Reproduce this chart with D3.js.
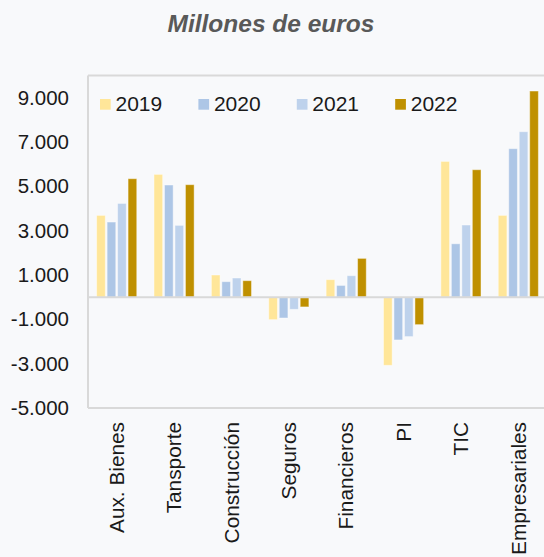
<!DOCTYPE html>
<html>
<head>
<meta charset="utf-8">
<script src="https://cdn.jsdelivr.net/npm/d3@7"></script>
<style>
  html, body { margin: 0; padding: 0; background: #f8f9fb; }
  svg { display: block; }
</style>
</head>
<body>
<svg id="chart"></svg>
<script>
const categories = ['Aux. Bienes', 'Tansporte', 'Construcción', 'Seguros', 'Financieros', 'PI', 'TIC', 'Empresariales'];
const years = ['2019', '2020', '2021', '2022'];
const values2019 = [3690, 5540, 1000, -1015, 790, -3075, 6125, 3690];
const values2020 = [3390, 5060, 700, -940, 530, -1930, 2410, 6700];
const values2021 = [4230, 3240, 865, -550, 970, -1780, 3255, 7465];
const values2022 = [5345, 5075, 745, -440, 1750, -1240, 5750, 9300];
const yTicks = [9000, 7000, 5000, 3000, 1000, -1000, -3000, -5000];

const seriesValues = [values2019, values2020, values2021, values2022];
const COLORS = ['#ffe699', '#adc6e6', '#bed2ec', '#bf9000'];
const AXIS_COLOR = '#d9d9d9';
const TEXT_COLOR = '#1a1a1a';
const FONT = '"Liberation Sans", Arial, sans-serif';

const W = 544, H = 557;
const MARGIN = { top: 75.5, left: 88, right: -3, bottom: 149 };

const svg = d3.select('#chart').attr('width', W).attr('height', H);

const rows = categories.map((c, i) => ({
    category: c,
    values: years.map((y, k) => ({ year: y, value: seriesValues[k][i] }))
}));

const x0 = d3.scaleBand()
    .domain(categories)
    .range([MARGIN.left, W - MARGIN.right])
    .paddingInner(0)
    .paddingOuter(0);

const x1 = d3.scaleBand()
    .domain(years)
    .range([x0.bandwidth() * 0.15, x0.bandwidth() * 0.85])
    .paddingInner(0.17);

const y = d3.scaleLinear()
    .domain([-5000, 10000])
    .range([H - MARGIN.bottom, MARGIN.top]);

const locale = d3.formatLocale({ decimal: ',', thousands: '.', grouping: [3], currency: ['', '€'], minus: '-' });
const fmt = locale.format(',.0f');

// title
svg.append('text')
    .attr('x', 271)
    .attr('y', 32)
    .attr('text-anchor', 'middle')
    .style('font-family', FONT)
    .style('font-size', '24.5px')
    .style('font-weight', '700')
    .style('font-style', 'italic')
    .style('fill', '#595959')
    .text('Millones de euros');

// plot frame
const frame = svg.append('g').attr('stroke', AXIS_COLOR).attr('stroke-width', 2);
frame.append('line')
    .attr('x1', MARGIN.left).attr('x2', W + 5)
    .attr('y1', y(10000)).attr('y2', y(10000));
frame.append('line')
    .attr('x1', MARGIN.left).attr('x2', W + 5)
    .attr('y1', y(-5000)).attr('y2', y(-5000));
frame.append('line')
    .attr('x1', MARGIN.left).attr('x2', MARGIN.left)
    .attr('y1', y(10000)).attr('y2', y(-5000));

// y axis labels
const yAxis = svg.append('g')
    .attr('transform', `translate(${MARGIN.left - 19},0)`)
    .call(d3.axisLeft(y).tickValues(yTicks).tickSize(0).tickPadding(0).tickFormat(fmt));
yAxis.select('.domain').remove();
yAxis.selectAll('text')
    .style('font-family', FONT)
    .style('font-size', '20.5px')
    .style('fill', TEXT_COLOR);

// bars
const groups = svg.append('g')
    .selectAll('g')
    .data(rows)
    .join('g')
    .attr('transform', d => `translate(${x0(d.category)},0)`);

groups.selectAll('rect')
    .data(d => d.values)
    .join('rect')
    .attr('x', d => x1(d.year))
    .attr('width', x1.bandwidth())
    .attr('y', d => y(Math.max(0, d.value)))
    .attr('height', d => Math.abs(y(d.value) - y(0)))
    .attr('fill', (d, i) => COLORS[i])
    .attr('stroke', 'rgba(255,255,255,0.45)')
    .attr('stroke-width', 1);

// zero line
svg.append('line')
    .attr('x1', MARGIN.left).attr('x2', W + 5)
    .attr('y1', y(0)).attr('y2', y(0))
    .attr('stroke', AXIS_COLOR)
    .attr('stroke-width', 2);

// x labels
svg.append('g')
    .selectAll('text')
    .data(categories)
    .join('text')
    .attr('transform', d => `translate(${x0(d) + x0.bandwidth() / 2},422) rotate(-90)`)
    .attr('text-anchor', 'end')
    .attr('dy', '0.35em')
    .style('font-family', FONT)
    .style('font-size', '20.8px')
    .style('fill', TEXT_COLOR)
    .text(d => d);

// legend
const legend = svg.append('g')
    .selectAll('g')
    .data(years)
    .join('g')
    .attr('transform', (d, i) => `translate(${100 + i * 98.4},99)`);

legend.append('rect')
    .attr('width', 10.7)
    .attr('height', 10.7)
    .attr('fill', (d, i) => COLORS[i]);

legend.append('text')
    .attr('x', 15.5)
    .attr('y', 11.5)
    .style('font-family', FONT)
    .style('font-size', '21px')
    .style('fill', TEXT_COLOR)
    .text(d => d);
</script>
</body>
</html>
